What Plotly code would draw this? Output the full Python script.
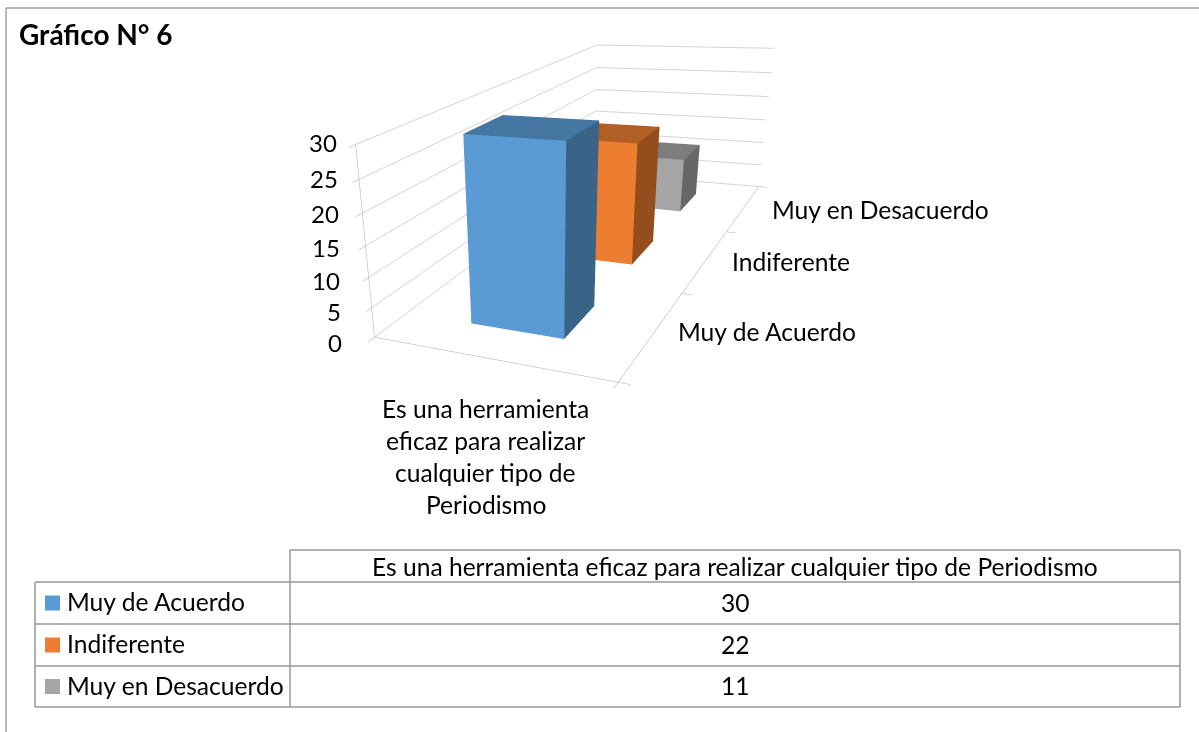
import plotly.graph_objects as go

categories = ["Muy de Acuerdo", "Indiferente", "Muy en Desacuerdo"]
values = [30, 22, 11]
front_colors = ["#5B9BD5", "#ED7D31", "#A5A5A5"]
top_colors = ["#4575A1", "#B25F25", "#7D7D7D"]
side_colors = ["#396488", "#944E1E", "#676767"]
z_ticks = [0, 5, 10, 15, 20, 25, 30]
x_label_lines = ["Es una herramienta", "eficaz para realizar", "cualquier tipo de", "Periodismo"]
header = "Es una herramienta eficaz para realizar cualquier tipo de Periodismo"
title = "Gráfico N° 6"

W, H = 1199, 732
FONT = "Lato"
SIZE = 24.6
GRID = "#D4D4D4"
TICK = "#A6A6A6"
BORDER = "#999999"
BLACK = "#000000"

# Camera fitted to the reference's perspective
EYE = (1.3029, -3.9376, 1.09)
CENTER = (-0.293, -0.9591, -0.6291)
UP = (0.0063, 0.0839, 1)
ASPECT_Y, ASPECT_Z = 2.5958, 0.7603
VIEW_CX = 462.5

BAR_HALF = 0.2
FACES = [(0, 1, 2), (0, 2, 3), (4, 5, 6), (4, 6, 7), (0, 1, 5), (0, 5, 4),
         (1, 2, 6), (1, 6, 5), (2, 3, 7), (2, 7, 6), (3, 0, 4), (3, 4, 7)]


def px(x):
    return x / W


def py(y):
    return 1 - y / H


fig = go.Figure()
for n, (v, c) in enumerate(zip(values, categories)):
    f, t, s = front_colors[n], top_colors[n], side_colors[n]
    fig.add_trace(go.Mesh3d(
        x=[-BAR_HALF, BAR_HALF, BAR_HALF, -BAR_HALF] * 2,
        y=[n - BAR_HALF, n - BAR_HALF, n + BAR_HALF, n + BAR_HALF] * 2,
        z=[0] * 4 + [v] * 4,
        i=[q[0] for q in FACES], j=[q[1] for q in FACES], k=[q[2] for q in FACES],
        facecolor=[f, f, t, t, f, f, s, s, t, t, s, s],
        flatshading=True,
        lighting=dict(ambient=1, diffuse=0, specular=0, roughness=1, fresnel=0),
        hoverinfo="skip", name=c, showscale=False))

scene_ann = []
for z in z_ticks:
    d = 1 - z / 30
    scene_ann.append(dict(x=-0.5, y=-0.5, z=z, text=str(z), showarrow=False, xanchor="right",
                          xshift=-17 - 14 * d, yshift=2 - 7 * d,
                          font=dict(family=FONT, size=24, color=BLACK)))
cat_dx = [23, 24, 26]
cat_dy = [2, -1, -2]
for n, c in enumerate(categories):
    scene_ann.append(dict(x=0.5, y=n, z=0, text=c, showarrow=False, xanchor="left",
                          xshift=cat_dx[n], yshift=cat_dy[n],
                          font=dict(family=FONT, size=SIZE, color=BLACK)))
for n, t in enumerate(x_label_lines):
    scene_ann.append(dict(x=0, y=-0.5, z=0, text=t, showarrow=False, xshift=-3, yshift=-50 - 32 * n,
                          font=dict(family=FONT, size=SIZE, color=BLACK)))


def axis(**k):
    return dict(visible=True, showbackground=False, showspikes=False, zeroline=False,
                showticklabels=False, title="", ticks="outside", ticklen=8, tickcolor=TICK,
                showline=True, linecolor=TICK, **k)


fig.update_layout(
    width=W, height=H, margin=dict(l=0, r=0, t=0, b=0), paper_bgcolor="white", showlegend=False,
    scene=dict(
        domain=dict(x=[0, 2 * VIEW_CX / W], y=[0, 1]),
        bgcolor="rgba(0,0,0,0)",
        aspectmode="manual",
        aspectratio=dict(x=1, y=ASPECT_Y, z=ASPECT_Z),
        camera=dict(eye=dict(x=EYE[0], y=EYE[1], z=EYE[2]),
                    center=dict(x=CENTER[0], y=CENTER[1], z=CENTER[2]),
                    up=dict(x=UP[0], y=UP[1], z=UP[2]),
                    projection=dict(type="perspective")),
        xaxis=axis(range=[-0.5, 0.5], tickvals=[-0.5, 0.5], showgrid=False),
        yaxis=axis(range=[-0.5, 2.5], tickvals=[-0.5, 0.5, 1.5, 2.5], showgrid=False),
        zaxis=axis(range=[0, 30], tickvals=z_ticks, showgrid=True, gridcolor=GRID),
        annotations=scene_ann))

# Data table and outer frame
L, C, R = 35, 290, 1180
rows = [550, 582, 624, 666, 707]
shapes = []


def line(x0, y0, x1, y1, color=BORDER, width=1.5):
    shapes.append(dict(type="line", xref="paper", yref="paper", x0=px(x0), y0=py(y0), x1=px(x1), y1=py(y1),
                       line=dict(color=color, width=width)))


line(C, rows[0], R, rows[0])
line(R, rows[0], R, rows[4])
line(C, rows[0], C, rows[4])
line(L, rows[1], L, rows[4])
for y in rows[1:]:
    line(L, y, R, y)
line(6, 8, W, 8, "#A0A0A0")
line(6, 8, 6, H, "#A0A0A0")

page_ann = []


def text(x, y, t, anchor="center", size=SIZE):
    page_ann.append(dict(xref="paper", yref="paper", x=px(x), y=py(y), text=t, showarrow=False,
                         xanchor=anchor, yanchor="middle",
                         font=dict(family=FONT, size=size, color=BLACK)))


text(17, 34, "<b>" + title + "</b>", "left", 28)
text((C + R) / 2, 566, header)
for n, (c, v) in enumerate(zip(categories, values)):
    yc = (rows[n + 1] + rows[n + 2]) / 2
    shapes.append(dict(type="rect", xref="paper", yref="paper", x0=px(45), x1=px(60),
                       y0=py(yc - 7.5), y1=py(yc + 7.5), fillcolor=front_colors[n], line=dict(width=0)))
    text(65, yc - 1.5, c, "left")
    text((C + R) / 2, yc - 1, str(v))

fig.update_layout(shapes=shapes, annotations=page_ann)
fig.write_html("out.html", config={"displayModeBar": False},
               post_script="document.body.style.margin='0';document.documentElement.style.overflow='hidden';"
                           "var s=document.createElement('style');s.textContent='text{font-variant-ligatures:none}';"
                           "document.head.appendChild(s);")
